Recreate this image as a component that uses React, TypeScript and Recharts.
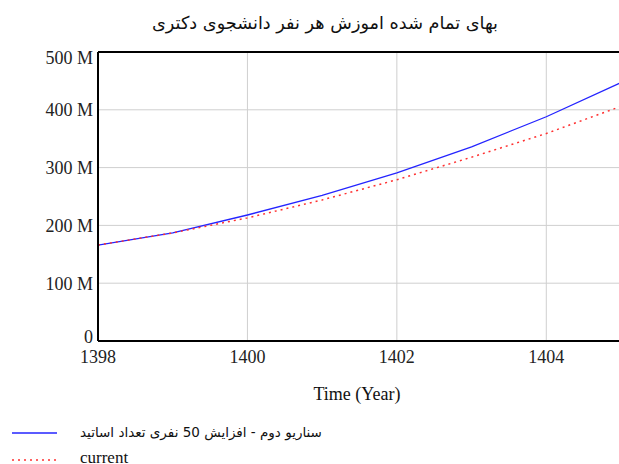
import { CartesianGrid, Line, LineChart, ReferenceLine, XAxis, YAxis } from 'recharts';

// years on the x axis
const years = [1398, 1399, 1400, 1401, 1402, 1403, 1404, 1405];
// values in millions
const scenarioTwo = [166, 187, 218, 252, 291, 336, 388, 447];
const current = [166, 187, 213, 244, 279, 318, 359, 406];

const xTicks = [1398, 1400, 1402, 1404];
const yTicks = [0, 100, 200, 300, 400, 500];

const chartTitle = 'بهای تمام شده اموزش هر نفر دانشجوی دکتری';
const scenarioLabel = 'سناریو دوم - افزایش 50 نفری تعداد اساتید';
const currentLabel = 'current';

const data = years.map((year, i) => ({
  year,
  scenario: scenarioTwo[i] * 1e6,
  current: current[i] * 1e6,
}));

const serif = '"Liberation Serif", "Times New Roman", serif';
const persian = '"DejaVu Sans", sans-serif';

// y tick: top and bottom labels are nudged inside the plot, like the original
function YTick(props: any) {
  const { x, y, payload } = props;
  const v = payload.value / 1e6;
  let shift = 0;
  if (v === 500) shift = 6;
  if (v === 0) shift = -4;
  return (
    <text
      x={x}
      y={y + shift}
      dy="0.355em"
      textAnchor="end"
      fill="#222"
      fontSize={18}
      fontFamily={serif}
    >
      {v === 0 ? '0' : `${v} M`}
    </text>
  );
}

export default function App() {
  return (
    <div
      style={{
        position: 'relative',
        width: '619px',
        height: '464px',
        overflow: 'hidden',
        background: '#FFFFFF',
      }}
    >
      <style>{`body { margin: 0; }`}</style>

      {/* Title */}
      <div
        dir="rtl"
        style={{
          position: 'absolute',
          left: 0,
          top: 13,
          width: '650px',
          textAlign: 'center',
          fontFamily: persian,
          fontSize: '17.7px',
          color: '#111',
        }}
      >
        {chartTitle}
      </div>

      <div style={{ position: 'absolute', left: 0, top: 0 }}>
        <LineChart
          width={623}
          height={464}
          data={data}
          margin={{ top: 52, right: 2, bottom: 93, left: 0 }}
        >
          <CartesianGrid stroke="#CFCFCF" strokeWidth={1} />
          <XAxis
            dataKey="year"
            type="number"
            domain={[1398, 1405]}
            ticks={xTicks}
            allowDataOverflow
            height={30}
            tickLine={false}
            tickSize={0}
            tickMargin={9}
            axisLine={{ stroke: '#000', strokeWidth: 2 }}
            tick={{ fill: '#222', fontSize: 18, fontFamily: serif }}
          />
          <YAxis
            type="number"
            domain={[0, 500e6]}
            ticks={yTicks.map((v) => v * 1e6)}
            width={98}
            tickLine={false}
            tickSize={0}
            tickMargin={5}
            axisLine={{ stroke: '#000', strokeWidth: 2 }}
            tick={<YTick />}
          />
          <ReferenceLine y={500e6} stroke="#000" strokeWidth={2} />
          <Line
            type="linear"
            dataKey="scenario"
            stroke="#2424FF"
            strokeWidth={1.3}
            dot={false}
            isAnimationActive={false}
          />
          <Line
            type="linear"
            dataKey="current"
            stroke="#FF3030"
            strokeWidth={1.5}
            strokeDasharray="2 4"
            dot={false}
            isAnimationActive={false}
          />
        </LineChart>
      </div>

      {/* X axis label */}
      <div
        style={{
          position: 'absolute',
          left: 257,
          top: 384,
          width: '200px',
          textAlign: 'center',
          fontFamily: serif,
          fontSize: '18px',
          color: '#111',
        }}
      >
        Time (Year)
      </div>

      {/* Legend */}
      <svg
        width={60}
        height={40}
        style={{ position: 'absolute', left: 0, top: 425 }}
      >
        <line x1={12} y1={8} x2={57} y2={8} stroke="#2424FF" strokeWidth={1.3} />
        <line
          x1={12}
          y1={35}
          x2={57}
          y2={35}
          stroke="#FF3030"
          strokeWidth={1.5}
          strokeDasharray="2 4"
        />
      </svg>
      <div
        dir="rtl"
        style={{
          position: 'absolute',
          left: 80,
          top: 424,
          fontFamily: persian,
          fontSize: '13.5px',
          color: '#111',
          whiteSpace: 'nowrap',
        }}
      >
        {scenarioLabel}
      </div>
      <div
        style={{
          position: 'absolute',
          left: 80,
          top: 448,
          fontFamily: serif,
          fontSize: '17px',
          color: '#111',
        }}
      >
        {currentLabel}
      </div>
    </div>
  );
}
